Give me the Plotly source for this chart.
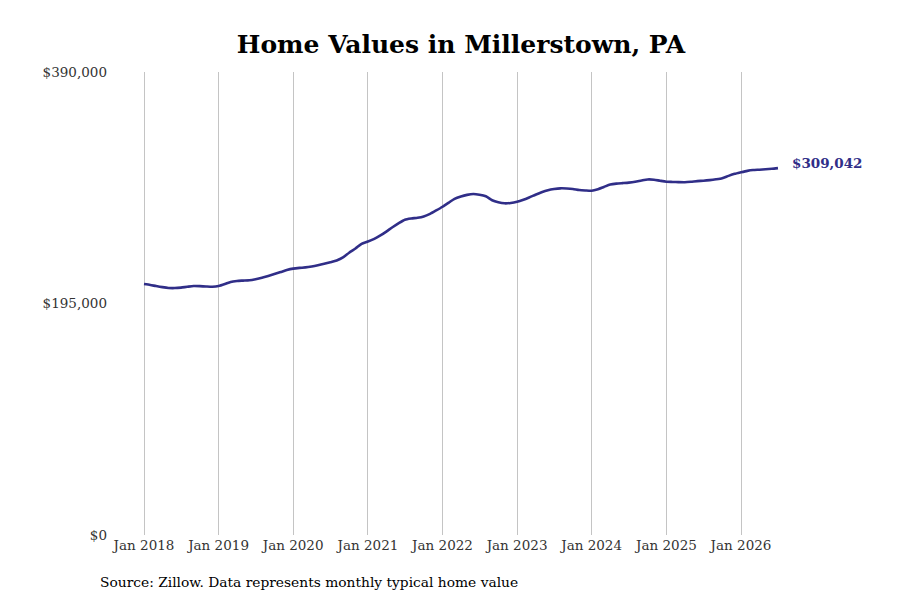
import pandas as pd
import plotly.graph_objects as go

# Monthly typical home value, Jan 2018 - Jul 2026
start_month = "2018-01-01"
values = [
    # 2018
    211400, 210600, 209700, 208800, 208100, 208000, 208400, 209100, 209700, 209600, 209300, 209100,
    # 2019
    209700, 211400, 213200, 214000, 214300, 214600, 215500, 216700, 218200, 219800, 221500, 223200,
    # 2020
    224400, 225000, 225400, 226200, 227200, 228400, 229700, 231200, 233800, 237800, 241300, 245300,
    # 2021
    247200, 249500, 252100, 255600, 259200, 262700, 265600, 266600, 267200, 268300, 270500, 273400,
    # 2022
    276500, 280000, 283200, 285200, 286500, 287200, 286600, 285300, 282000, 280300, 279400, 279700,
    # 2023
    280700, 282400, 284300, 286600, 288700, 290400, 291400, 292000, 291900, 291500, 290600, 290200,
    # 2024
    290000, 291300, 293200, 295200, 296000, 296400, 296800, 297500, 298600, 299500, 299300, 298400,
    # 2025
    297600, 297400, 297200, 297100, 297500, 298100, 298400, 298900, 299600, 300500, 302500, 304200,
    # 2026
    305500, 306700, 307400, 307700, 308100, 308500, 309042,
]
dates = pd.date_range(start_month, periods=len(values), freq="MS")

tick_dates = pd.date_range("2018-01-01", "2026-01-01", freq="YS")
tick_labels = [d.strftime("Jan %Y") for d in tick_dates]
y_ticks = [0, 195000, 390000]
y_labels = ["$0", "$195,000", "$390,000"]
end_label = "$309,042"
title_text = "Home Values in Millerstown, PA"
source_text = "Source: Zillow. Data represents monthly typical home value"

LINE = "#302e88"
FONT = "DejaVu Serif"

# plot area geometry (figure pixels; page adds an 8px offset)
W, H = 900, 600
ML, MR, MT, MB = 100, 48, 64, 73
plot_w = W - ML - MR
plot_h = H - MT - MB
x0_px, x1_px = 136, 733  # figure-pixel positions of Jan 2018 and Jan 2026
px_per_day = (x1_px - x0_px) / (tick_dates[-1] - tick_dates[0]).days
x_min = tick_dates[0] - pd.Timedelta(days=(x0_px - ML) / px_per_day)
x_max = tick_dates[-1] + pd.Timedelta(days=(ML + plot_w - x1_px) / px_per_day)

fig = go.Figure()
fig.add_trace(go.Scatter(
    x=dates, y=values, mode="lines",
    line=dict(color=LINE, width=2.6, shape="spline", smoothing=0.6),
    hoverinfo="skip", showlegend=False,
))

fig.add_annotation(
    x=dates[-1], y=values[-1], text=f"<b>{end_label}</b>",
    showarrow=False, xanchor="left", yanchor="middle", xshift=12, yshift=5,
    font=dict(family=FONT, size=13.5, color=LINE),
)
fig.add_annotation(
    xref="paper", yref="paper",
    x=(90 - ML) / plot_w, y=-(574 - (H - MB)) / plot_h,
    text=source_text, showarrow=False, xanchor="left", yanchor="middle",
    font=dict(family=FONT, size=13.8, color="#000000"),
)

fig.update_layout(
    width=W, height=H,
    margin=dict(l=ML, r=MR, t=MT, b=MB),
    paper_bgcolor="white", plot_bgcolor="white",
    title=dict(
        text=f"<b>{title_text}</b>", x=453 / W, xanchor="center",
        y=1 - 36 / H, yanchor="middle", yref="container",
        font=dict(family=FONT, size=25, color="#000000"),
    ),
    xaxis=dict(
        type="date", range=[x_min, x_max],
        tickvals=tick_dates, ticktext=tick_labels,
        showgrid=True, gridcolor="#c4c4c4", gridwidth=1,
        zeroline=False, showline=False, ticks="",
        tickfont=dict(family=FONT, size=13.5, color="#333333"),
    ),
    yaxis=dict(
        range=[0, 390000], tickvals=y_ticks, ticktext=y_labels,
        showgrid=False, zeroline=False, showline=False, ticks="",
        tickfont=dict(family=FONT, size=13.5, color="#333333"),
    ),
)

fig.write_html("out.html")
